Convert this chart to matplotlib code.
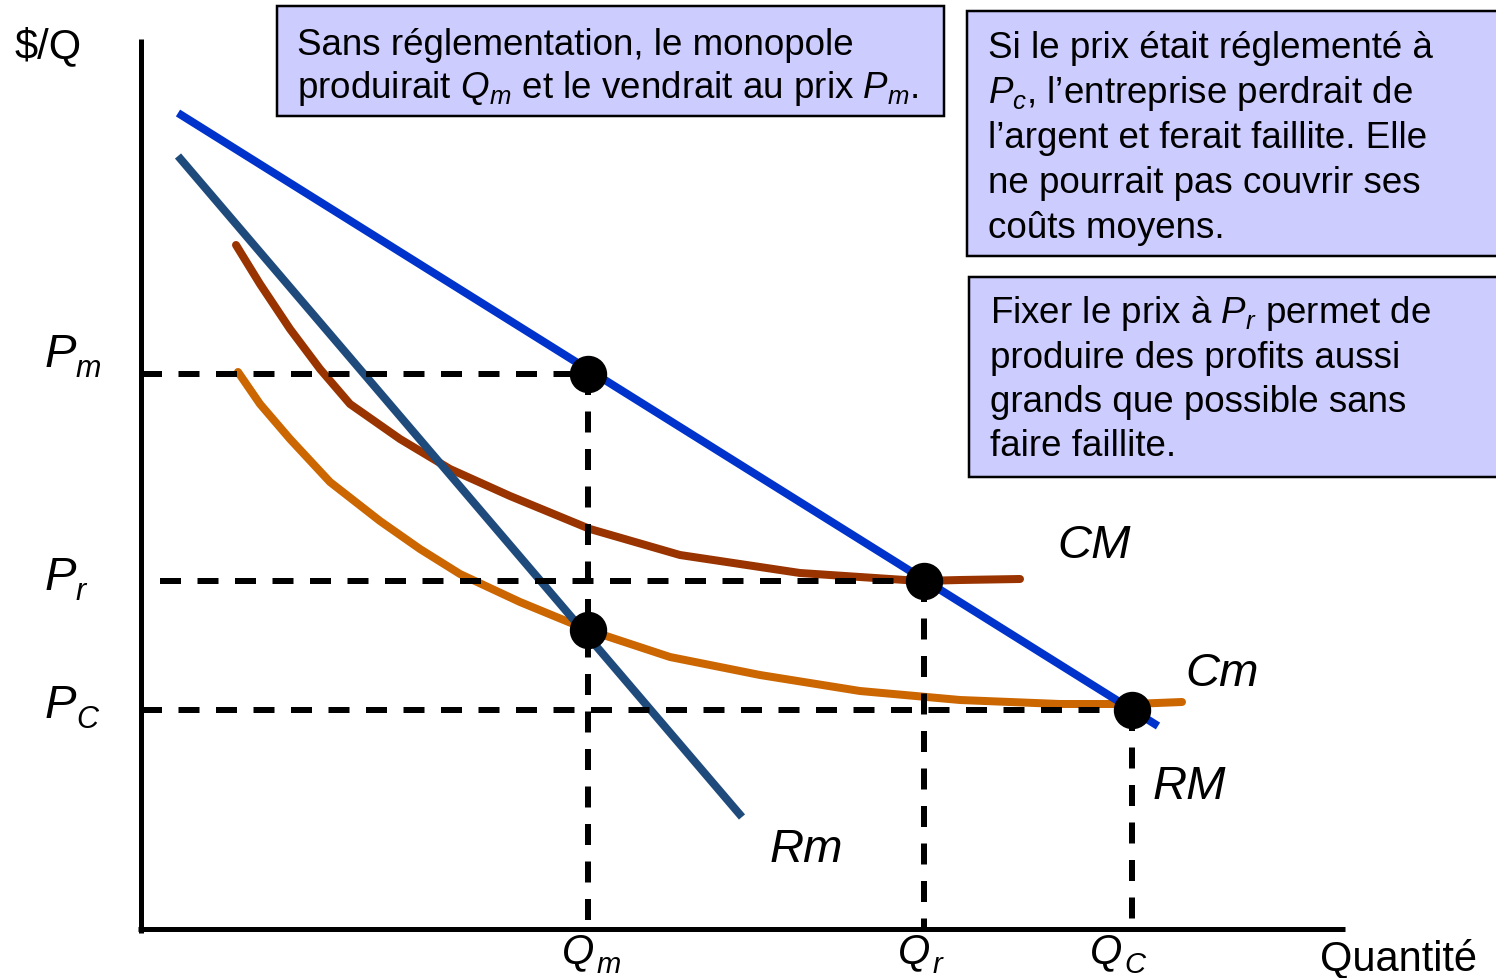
import matplotlib
matplotlib.use("Agg")
import matplotlib.pyplot as plt
from matplotlib.patches import Rectangle

plt.rcParams['font.family'] = ['Liberation Sans', 'DejaVu Sans']
plt.rcParams['mathtext.fontset'] = 'custom'
plt.rcParams['mathtext.rm'] = 'Liberation Sans'
plt.rcParams['mathtext.it'] = 'Liberation Sans:italic'
plt.rcParams['mathtext.bf'] = 'Liberation Sans:bold'

# ---------------- data (chart units: quantity / price) ----------------
Qm, Qr, Qc = 44.7, 78.3, 99.1
Pm, Pr, Pc = 55.5, 34.8, 21.9
Rm_at_Qm = 29.9

demand_q = [3.7, 101.7]
demand_p = [81.6, 20.3]

mr_q = [3.7, 60.1]
mr_p = [77.3, 11.2]

cm_q = [9.5, 11.9, 14.9, 17.9, 20.9, 25.9, 30.9, 36.9, 44.9, 53.9, 65.9, 77.9, 81.9, 87.9]
cm_p = [68.4, 64.5, 60.0, 56.0, 52.5, 49.0, 46.0, 43.3, 40.0, 37.4, 35.6, 34.8, 34.9, 35.0]

mc_q = [9.7, 11.9, 14.9, 18.9, 23.9, 27.9, 31.9, 37.9, 44.7, 52.9, 61.9, 71.9, 81.9, 91.9, 99.1, 104.1]
mc_p = [55.7, 52.5, 49.0, 44.7, 40.8, 38.0, 35.5, 32.7, 29.9, 27.2, 25.4, 23.8, 22.9, 22.5, 22.5, 22.7]

point_q = [Qm, Qr, Qc, Qm]
point_p = [Pm, Pr, Pc, Rm_at_Qm]

price_labels = [('P', 'm', Pm), ('P', 'r', Pr), ('P', 'C', Pc)]
qty_labels = [('Q', 'm', Qm), ('Q', 'r', Qr), ('Q', 'C', Qc)]

# ---------------- figure ----------------
W, H = 1496, 979
fig = plt.figure(figsize=(W / 100, H / 100), dpi=100)
ax = fig.add_axes([0, 0, 1, 1])
ax.set_xlim(-14.1, 135.5)
ax.set_ylim(-4.9, 93.0)
ax.axis('off')

def P(px, py):
    """pixel position -> chart units (layout helper for annotations)"""
    return (px - 141) / 10.0, (930 - py) / 10.0

px2pt = 72 / 100.0
lw_curve = 8 * px2pt
lw_dash = 6 * px2pt

# axes
ax.plot([0, 0], [-0.4, 89.0], color='black', lw=5 * px2pt, solid_capstyle='butt', zorder=2)
ax.plot([-0.3, 120.4], [0, 0], color='black', lw=5 * px2pt, solid_capstyle='butt', zorder=2)

# curves
ax.plot(demand_q, demand_p, color='#0033CC', lw=lw_curve, solid_capstyle='butt', zorder=3)
ax.plot(mr_q, mr_p, color='#1F4A7C', lw=lw_curve, solid_capstyle='butt', zorder=3)
ax.plot(cm_q, cm_p, color='#993300', lw=lw_curve, solid_capstyle='round',
        solid_joinstyle='round', zorder=2.5)
ax.plot(mc_q, mc_p, color='#CC6600', lw=lw_curve, solid_capstyle='round',
        solid_joinstyle='round', zorder=2.5)

# dashed guide lines
dash = (0, (3.5, 2.75))
ax.plot([0, Qm], [Pm, Pm], color='black', lw=lw_dash, ls=dash, zorder=4)
ax.plot([1.9, Qr], [Pr, Pr], color='black', lw=lw_dash, ls=dash, zorder=4)
ax.plot([0, Qc], [Pc, Pc], color='black', lw=lw_dash, ls=dash, zorder=4)
ax.plot([Qm, Qm], [Pm, 0], color='black', lw=lw_dash, ls=dash, zorder=4)
ax.plot([Qr, Qr], [Pr, 0], color='black', lw=lw_dash, ls=dash, zorder=4)
ax.plot([Qc, Qc], [Pc, 0], color='black', lw=lw_dash, ls=dash, zorder=4)

# points
ax.plot(point_q, point_p, 'o', color='black', ms=36 * px2pt, zorder=5)

# axis labels
ax.text(*P(15, 58), '$/Q', fontsize=30, va='baseline', ha='left')
ax.text(*P(1320, 970), 'Quantité', fontsize=30, va='baseline', ha='left')

price_offsets = [0.8, -0.8, -0.7]
for (main, sub, val), off in zip(price_labels, price_offsets):
    x0 = P(45, 0)[0]
    ax.text(x0, val + off, main, fontsize=34, style='italic', va='baseline', ha='left')
    ax.text(x0 + 3.1, val + off - 1.0, sub, fontsize=22, style='italic', va='baseline', ha='left')

qty_offsets = [-2.6, -2.6, -4.2]
for (main, sub, val), off in zip(qty_labels, qty_offsets):
    y0 = P(0, 963)[1]
    ax.text(val + off, y0, main, fontsize=30, style='italic', va='baseline', ha='left')
    ax.text(val + off + 3.45, y0 - 1.0, sub, fontsize=21, style='italic', va='baseline', ha='left')

# curve labels
ax.text(*P(1057, 558), 'CM', fontsize=34, style='italic', va='baseline', ha='left')
ax.text(*P(1185, 686), 'Cm', fontsize=34, style='italic', va='baseline', ha='left')
ax.text(*P(1153, 799), 'RM', fontsize=34, style='italic', va='baseline', ha='left')
ax.text(*P(770, 862), 'Rm', fontsize=34, style='italic', va='baseline', ha='left')

# text boxes
def box(x0, y0, x1, y1):
    (a, b), (c, d) = P(x0, y1), P(x1, y0)
    ax.add_patch(Rectangle((a, b), c - a, d - b, facecolor='#CCCCFF',
                           edgecolor='black', lw=2.5 * px2pt, zorder=6, clip_on=False))

box(277, 7, 944, 117)
box(967, 12, 1505, 257)
box(969, 278, 1505, 478)

fs_box = 26.5
lines1 = ['Sans réglementation, le monopole',
          'produirait $Q_m$ et le vendrait au prix $P_m$.']
for i, t in enumerate(lines1):
    ax.text(*P(297, 55 + 43 * i), t, fontsize=fs_box, va='baseline', ha='left', zorder=7)

lines2 = ['Si le prix était réglementé à',
          '$P_c$, l’entreprise perdrait de',
          'l’argent et ferait faillite. Elle',
          'ne pourrait pas couvrir ses',
          'coûts moyens.']
for i, t in enumerate(lines2):
    ax.text(*P(988, 58 + 45 * i), t, fontsize=fs_box, va='baseline', ha='left', zorder=7)

lines3 = ['Fixer le prix à $P_r$ permet de',
          'produire des profits aussi',
          'grands que possible sans',
          'faire faillite.']
for i, t in enumerate(lines3):
    ax.text(*P(990, 323 + 44.5 * i), t, fontsize=fs_box, va='baseline', ha='left', zorder=7)

fig.savefig('out.png', dpi=100)
